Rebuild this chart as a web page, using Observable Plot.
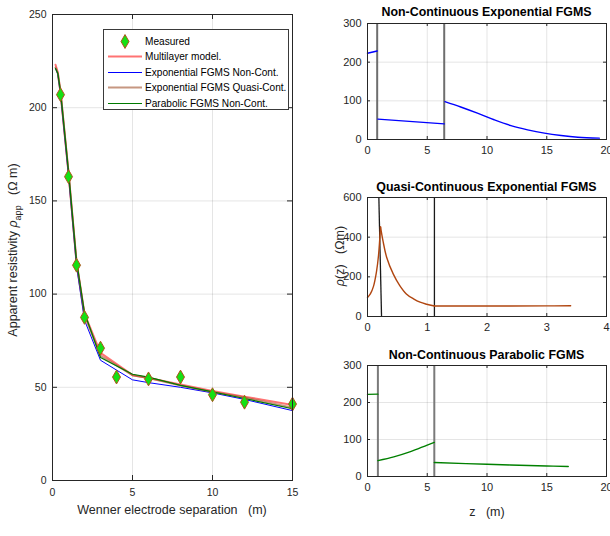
<!DOCTYPE html>
<html>
<head>
<meta charset="utf-8">
<script src="https://cdn.jsdelivr.net/npm/d3@7"></script>
<script src="https://cdn.jsdelivr.net/npm/@observablehq/plot@0.6"></script>
<style>
  html, body { margin: 0; padding: 0; background: #fff; }
  #fig { position: relative; width: 610px; height: 536px; overflow: hidden;
         font-family: "Liberation Sans", Arial, Helvetica, sans-serif; color: #262626; }
  .panel { position: absolute; }
  .panel svg { overflow: visible; display: block; }
  .txt { position: absolute; white-space: pre; line-height: 1; }
  .title { font-weight: bold; font-size: 12.4px; color: #000; }
  #legend { position: absolute; background: #fff; border: 1px solid #3a3a3a; box-sizing: border-box; }
  #legend .row { position: absolute; left: 0; height: 15px; display: flex; align-items: center; white-space: nowrap; }
  #legend .row span { font-size: 10.1px; color: #000; margin-left: 2px; white-space: nowrap; }
</style>
</head>
<body>
<div id="fig"></div>
<script>
// ---- Wenner sounding: measured apparent resistivity (Ω m) ----
const spacing  = [0.5, 1, 1.5, 2, 3, 4, 6, 8, 10, 12, 15];
const measured = [207, 163, 115.5, 87.5, 71, 55.5, 54.5, 55.5, 46, 42, 41];

// ---- fitted model curves ----
const modelSpacing = [0.19, 0.33, 0.5, 1, 1.5, 2, 3, 5, 6, 8, 10, 12, 15];
const multilayer   = [223, 219, 208.5, 165, 117.5, 89.5, 68.5, 56.5, 55, 51.5, 48, 45, 40.5];
const expNonCont   = [221, 218, 207, 163.5, 115, 86, 64.5, 54, 52.5, 50, 47, 43.5, 37.5];
const expQuasi     = [221.5, 218.5, 208.5, 165.5, 117, 88.5, 67, 56.5, 55, 51, 47.5, 44.5, 39];
const parNonCont   = [221, 218.5, 209, 166, 118, 90, 66, 57, 55.5, 51, 47.5, 44, 38.5];

const seriesNames = ["Measured", "Multilayer model.", "Exponential FGMS Non-Cont.",
                     "Exponential FGMS Quasi-Cont.", "Parabolic FGMS Non-Cont."];

// ---- resistivity profiles ρ(z) ----
// non-continuous exponential FGMS
const expNC_z     = [0, 0.81, 0.87, 6.42, 6.48, 7.8, 9.2, 10.6, 12, 13.4, 14.8, 16.2, 17.6, 19.4];
const expNC_rho   = [223, 229, 52.6, 40.5, 98, 84, 68, 51, 36, 25, 16.4, 10.3, 6, 3.5];
const expNC_layer = [1, 1, 2, 2, 3, 3, 3, 3, 3, 3, 3, 3, 3, 3];
const expNC_bounds = [0.81, 6.42];

// quasi-continuous exponential FGMS
const quasi_z     = [0, 0.05, 0.1, 0.15, 0.185, 0.218, 0.218, 0.26, 0.32, 0.43, 0.54, 0.65, 0.77, 0.88, 0.99, 1.12, 1.12, 2, 3, 3.4];
const quasi_rho   = [95, 115, 152, 225, 310, 452, 452, 380, 299, 215, 156, 114, 89, 72, 62, 53, 53, 53, 53.5, 54];
const quasi_part  = [1, 1, 1, 1, 1, 1, 2, 2, 2, 2, 2, 2, 2, 2, 2, 2, 3, 3, 3, 3];
const quasi_boundTop    = [0.19, 1.12];
const quasi_boundBottom = [0.235, 1.12];

// non-continuous parabolic FGMS
const par_z     = [0, 0.87, 0.87, 2.2, 3.6, 5, 5.59, 5.59, 10, 15, 16.8];
const par_rho   = [222, 222.5, 43, 53, 67, 85, 92, 38, 33, 28.5, 27];
const par_layer = [1, 1, 2, 2, 2, 2, 2, 3, 3, 3, 3];
const par_bounds = [0.87, 5.59];

// ---- styling ----
const FONT = '"Liberation Sans", Arial, Helvetica, sans-serif';
const AX = "#262626";
const lineStyles = [
  {stroke: "#ff0000", strokeOpacity: 0.55, strokeWidth: 2},   // multilayer
  {stroke: "#0000ff", strokeOpacity: 1, strokeWidth: 1},      // exponential non-cont.
  {stroke: "#a0522d", strokeOpacity: 0.6, strokeWidth: 2},    // exponential quasi-cont.
  {stroke: "#007a00", strokeOpacity: 1, strokeWidth: 1.2}     // parabolic non-cont.
];
const markerStyle = {fill: "#14e014", stroke: "#b0521a", strokeWidth: 1};
const markerR = 4.2;

const fig = document.getElementById("fig");

function place(node, left, top) {
  const wrap = document.createElement("div");
  wrap.className = "panel";
  wrap.style.left = left + "px";
  wrap.style.top = top + "px";
  wrap.appendChild(node);
  fig.appendChild(wrap);
}
function text(html, cx, cy, size, cls = "", rotate = 0) {
  const el = document.createElement("div");
  el.className = "txt " + cls;
  el.innerHTML = html;
  el.style.left = cx + "px";
  el.style.top = cy + "px";
  if (size) el.style.fontSize = size + "px";
  el.style.transform = `translate(-50%,-50%) rotate(${rotate}deg)`;
  fig.appendChild(el);
}

// inward tick marks on all four sides, plus light grid
function boxMarks(xt, yt, fw, fh, len) {
  return [
    Plot.gridX(xt, {stroke: AX, strokeOpacity: 0.12}),
    Plot.gridY(yt, {stroke: AX, strokeOpacity: 0.12}),
    Plot.ruleX(xt, {insetTop: fh - len, stroke: AX}),
    Plot.ruleX(xt, {insetBottom: fh - len, stroke: AX}),
    Plot.ruleY(yt, {insetRight: fw - len, stroke: AX}),
    Plot.ruleY(yt, {insetLeft: fw - len, stroke: AX})
  ];
}

// ---- left: apparent resistivity vs. electrode separation ----
{
  const W = 300, H = 536, mL = 52, mR = 8, mT = 14, mB = 56;
  const xt = [0, 5, 10, 15], yt = [0, 50, 100, 150, 200, 250];
  const rows = modelSpacing.map((a, i) => ({a, m: multilayer[i], e: expNonCont[i], q: expQuasi[i], p: parNonCont[i]}));
  const pts = spacing.map((a, i) => ({a, rho: measured[i]}));
  const chart = Plot.plot({
    width: W, height: H, marginLeft: mL, marginRight: mR, marginTop: mT, marginBottom: mB,
    style: {fontFamily: FONT, fontSize: "10.5px", color: AX, background: "transparent"},
    x: {domain: [0, 15]},
    y: {domain: [0, 250]},
    marks: [
      ...boxMarks(xt, yt, W - mL - mR, H - mT - mB, 5),
      Plot.line(rows, {x: "a", y: "m", ...lineStyles[0]}),
      Plot.line(rows, {x: "a", y: "e", ...lineStyles[1]}),
      Plot.line(rows, {x: "a", y: "q", ...lineStyles[2]}),
      Plot.line(rows, {x: "a", y: "p", ...lineStyles[3]}),
      Plot.dot(pts, {x: "a", y: "rho", symbol: "diamond", r: markerR, ...markerStyle}),
      Plot.frame({stroke: AX}),
      Plot.axisX(xt, {tickSize: 0, tickPadding: 8, label: null}),
      Plot.axisY(yt, {tickSize: 0, tickPadding: 6, label: null})
    ]
  });
  place(chart, 0, 0);
  text("Wenner electrode separation   (m)", 172, 510, 12.5);
  text("Apparent resistivity <i>ρ</i><sub style='font-size:9px'>app</sub>   (Ω m)", 15, 250, 12.5, "", -90);
}

// ---- legend ----
{
  const lg = document.createElement("div");
  lg.id = "legend";
  Object.assign(lg.style, {left: "103px", top: "29px", width: "186px", height: "81px"});
  seriesNames.forEach((name, i) => {
    const row = document.createElement("div");
    row.className = "row";
    row.style.top = (3.5 + i * 15.6) + "px";
    const sw = d3.create("svg").attr("width", 39).attr("height", 15);
    if (i === 0) {
      sw.append("path").attr("d", d3.symbol(d3.symbolDiamond, Math.PI * markerR * markerR)())
        .attr("transform", "translate(21,7.5)")
        .attr("fill", markerStyle.fill).attr("stroke", markerStyle.stroke).attr("stroke-width", 1);
    } else {
      const s = lineStyles[i - 1];
      sw.append("line").attr("x1", 4).attr("x2", 38).attr("y1", 7.5).attr("y2", 7.5)
        .attr("stroke", s.stroke).attr("stroke-opacity", s.strokeOpacity).attr("stroke-width", s.strokeWidth);
    }
    row.appendChild(sw.node());
    const t = document.createElement("span");
    t.textContent = name;
    row.appendChild(t);
    lg.appendChild(row);
  });
  fig.appendChild(lg);
}

// ---- right: ρ(z) profiles ----
function profile({top, mT, fh, mB, xDomain, xt, yDomain, yt, marks}) {
  const W = 280, mL = 37, mR = 4;
  const chart = Plot.plot({
    width: W, height: mT + fh + mB, marginLeft: mL, marginRight: mR, marginTop: mT, marginBottom: mB,
    style: {fontFamily: FONT, fontSize: "11px", color: AX, background: "transparent"},
    x: {domain: xDomain},
    y: {domain: yDomain},
    marks: [
      ...boxMarks(xt, yt, W - mL - mR, fh, 3),
      ...marks,
      Plot.frame({stroke: AX}),
      Plot.axisX(xt, {tickSize: 0, tickPadding: 7, label: null}),
      Plot.axisY(yt, {tickSize: 0, tickPadding: 6, label: null})
    ]
  });
  place(chart, 330, top);
}

// non-continuous exponential
{
  const rows = expNC_z.map((z, i) => ({z, rho: expNC_rho[i], layer: expNC_layer[i]}));
  profile({
    top: 0, mT: 23, fh: 116, mB: 22,
    xDomain: [0, 20], xt: [0, 5, 10, 15, 20],
    yDomain: [0, 300], yt: [0, 100, 200, 300],
    marks: [
      Plot.ruleX(expNC_bounds, {stroke: "#6e6e6e", strokeWidth: 2}),
      Plot.line(rows, {x: "z", y: "rho", z: "layer", stroke: "#0000ff", strokeWidth: 1.4, curve: "catmull-rom"})
    ]
  });
  text("Non-Continuous Exponential FGMS", 486.5, 12, null, "title");
}

// quasi-continuous exponential
{
  const rows = quasi_z.map((z, i) => ({z, rho: quasi_rho[i], part: quasi_part[i]}));
  const yDomain = [0, 600];
  const bounds = quasi_boundTop.map((z, i) => ({z1: z, z2: quasi_boundBottom[i]}));
  profile({
    top: 170, mT: 27, fh: 119, mB: 24,
    xDomain: [0, 4], xt: [0, 1, 2, 3, 4],
    yDomain, yt: [0, 200, 400, 600],
    marks: [
      Plot.link(bounds, {x1: "z1", x2: "z2", y1: () => yDomain[1], y2: () => yDomain[0], stroke: "#1a1a1a", strokeWidth: 1.3}),
      Plot.line(rows, {x: "z", y: "rho", z: "part", stroke: "#b0450f", strokeWidth: 1.4, curve: "catmull-rom"})
    ]
  });
  text("Quasi-Continuous Exponential FGMS", 486.5, 187, null, "title");
  text("<i>ρ</i>(z)   (Ωm)", 340, 256, 12.5, "", -90);
}

// non-continuous parabolic
{
  const rows = par_z.map((z, i) => ({z, rho: par_rho[i], layer: par_layer[i]}));
  profile({
    top: 340, mT: 25, fh: 111, mB: 22,
    xDomain: [0, 20], xt: [0, 5, 10, 15, 20],
    yDomain: [0, 300], yt: [0, 100, 200, 300],
    marks: [
      Plot.ruleX(par_bounds, {stroke: "#7a7a7a", strokeWidth: 2}),
      Plot.line(rows, {x: "z", y: "rho", z: "layer", stroke: "#008000", strokeWidth: 1.4, curve: "catmull-rom"})
    ]
  });
  text("Non-Continuous Parabolic FGMS", 486.5, 355, null, "title");
  text("z   (m)", 487, 512, 12.5);
}
</script>
</body>
</html>
